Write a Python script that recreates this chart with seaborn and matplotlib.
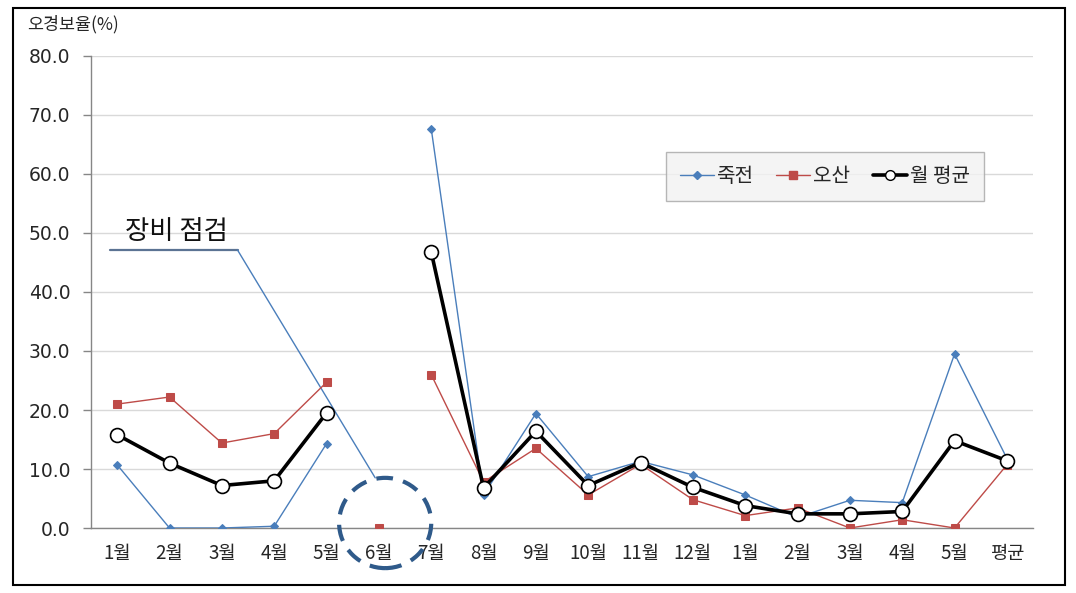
import numpy as np
import pandas as pd
import matplotlib
matplotlib.use("Agg")
import matplotlib.pyplot as plt
from matplotlib.lines import Line2D
from matplotlib.patches import Ellipse, Rectangle
import seaborn as sns

categories = ["1월", "2월", "3월", "4월", "5월", "6월", "7월", "8월", "9월", "10월",
              "11월", "12월", "1월", "2월", "3월", "4월", "5월", "평균"]
jukjeon = [10.7, 0.0, 0.0, 0.3, 14.3, np.nan, 67.7, 5.6, 19.4, 8.7,
           11.3, 9.0, 5.6, 1.8, 4.7, 4.3, 29.5, 11.8]
osan = [21.0, 22.2, 14.4, 16.0, 24.7, 0.0, 26.0, 7.8, 13.5, 5.6,
        10.8, 4.8, 2.1, 3.4, 0.0, 1.4, 0.0, 10.7]
avg = [15.8, 11.0, 7.2, 8.0, 19.5, np.nan, 46.8, 6.8, 16.4, 7.2,
       11.1, 6.9, 3.8, 2.4, 2.4, 2.8, 14.8, 11.4]
series_names = ["죽전", "오산", "월 평균"]
yticks = [0, 10, 20, 30, 40, 50, 60, 70, 80]
gap_index = 5  # 6월: 장비 점검

sns.set_theme(style="white")
plt.rcParams['font.family'] = ['Noto Sans CJK KR', 'DejaVu Sans']

x = np.arange(len(categories))
seg = np.where(x < gap_index, 0, np.where(x == gap_index, 1, 2))

def frame(vals):
    df = pd.DataFrame({"x": x, "v": vals, "seg": seg})
    return df.dropna()

fig = plt.figure(figsize=(10.76, 5.93), dpi=100)
ax = fig.add_axes([0.0846, 0.1096, 0.8755, 0.7960])

blue = "#4A7EBB"
red = "#BE4B48"

sns.lineplot(data=frame(jukjeon), x="x", y="v", units="seg", estimator=None,
             color=blue, lw=1.0, marker="D", markersize=4, markeredgecolor=blue,
             ax=ax, legend=False, zorder=3)
sns.lineplot(data=frame(osan), x="x", y="v", units="seg", estimator=None,
             color=red, lw=1.0, marker="s", markersize=6, markeredgecolor=red,
             ax=ax, legend=False, zorder=3)
sns.lineplot(data=frame(avg), x="x", y="v", units="seg", estimator=None,
             color="black", lw=2.6, marker="o", markersize=10, markerfacecolor="white",
             markeredgecolor="black", markeredgewidth=1.2, ax=ax, legend=False, zorder=4)

ax.set_xlim(-0.5, len(categories) - 0.5)
ax.set_ylim(0, 80)
ax.set_yticks(yticks)
ax.set_yticklabels([f"{v:.1f}" for v in yticks], fontsize=13.5, color="#262626",
                   family="DejaVu Sans")
ax.set_xticks(x)
ax.set_xticklabels(categories, fontsize=13.5, color="#262626")
ax.set_xticks(np.arange(-0.5, len(categories)), minor=True)
ax.tick_params(axis="x", which="major", length=0, pad=11)
ax.tick_params(axis="x", which="minor", length=6, color="#868686", width=1, direction="out")
ax.tick_params(axis="y", which="major", length=6, color="#868686", width=1, direction="out", left=True, pad=9)
ax.set_xlabel("")
ax.set_ylabel("")
ax.grid(axis="y", color="#d9d9d9", lw=1)
ax.set_axisbelow(True)
for s in ["top", "right"]:
    ax.spines[s].set_visible(False)
for s in ["left", "bottom"]:
    ax.spines[s].set_color("#868686")
    ax.spines[s].set_linewidth(1)

fig.text(0.025, 0.9595, "오경보율(%)", fontsize=12.5, color="#262626", va="center", ha="left")

handles = [
    Line2D([], [], color=blue, lw=1.0, marker="D", markersize=4),
    Line2D([], [], color=red, lw=1.0, marker="s", markersize=6),
    Line2D([], [], color="black", lw=2.6, marker="o", markersize=7,
           markerfacecolor="white", markeredgewidth=1.0),
]
leg = ax.legend(handles, series_names, loc="upper left", bbox_to_anchor=(0.610, 0.797),
                ncol=3, frameon=True, fancybox=False, fontsize=14.5, handlelength=1.7,
                handletextpad=0.15, columnspacing=1.1, borderaxespad=0, borderpad=0.7)
leg.get_frame().set_facecolor("#f2f2f2")
leg.get_frame().set_edgecolor("#a6a6a6")
leg.get_frame().set_linewidth(1)

# 장비 점검 callout
ax.text(1.124, 50.2, "장비 점검", fontsize=19, color="#111111", va="center", ha="center")
ax.plot([-0.14, 2.3], [47.1, 47.1], color="#5B7393", lw=1.6, clip_on=False, zorder=2)
ax.plot([2.3, 4.93], [47.1, 8.5], color=blue, lw=1.0, clip_on=False, zorder=2)
circ = Ellipse((5.12, 0.85), width=1.76, height=15.3, fill=False, edgecolor="#2F5A8A",
               lw=3, linestyle=(0, (4, 2.5)), clip_on=False, zorder=5)
ax.add_patch(circ)

fig.patches.append(Rectangle((0.012, 0.013), 0.978, 0.973, transform=fig.transFigure,
                             fill=False, edgecolor="black", lw=1.5))

fig.savefig("out.png", dpi=100)
